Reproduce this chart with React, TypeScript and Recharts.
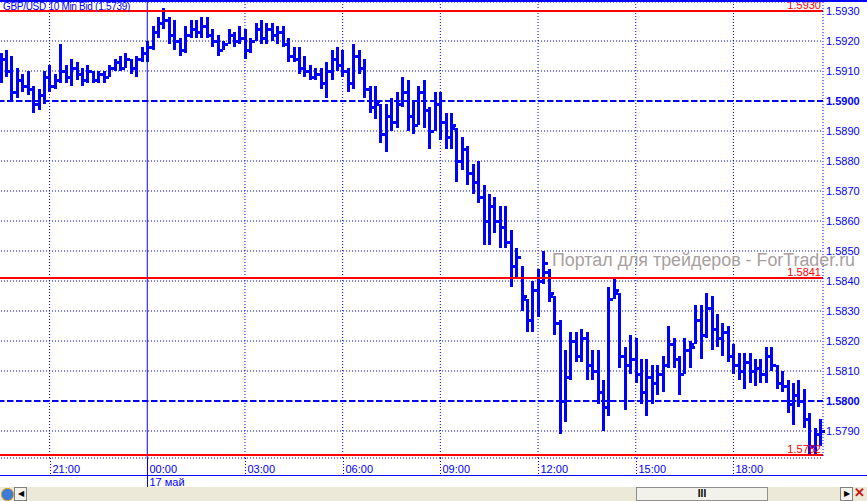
import React from "react";
import { ComposedChart, Bar, XAxis, YAxis, CartesianGrid, ReferenceLine } from "recharts";

const BLUE = "#0000ff";
const RED = "#ff0000";
const FONT = "'Liberation Sans', Arial, sans-serif";

// GBP/USD 10-min bars, 16 May 19:30 .. 17 May 20:40, in points (5916 -> 1.5916)
const HIGH = [
  5916, 5917, 5915, 5911, 5909, 5910, 5905, 5904, 5910, 5912,
  5909, 5919, 5912, 5914, 5913, 5911, 5912, 5910, 5910, 5910,
  5912, 5914, 5915, 5916, 5914, 5915, 5918, 5920, 5925, 5928,
  5931, 5928, 5927, 5921, 5925, 5927, 5927, 5928, 5928, 5924,
  5922, 5920, 5924, 5923, 5925, 5924, 5921, 5926, 5927, 5926,
  5926, 5925, 5925, 5921, 5918, 5918, 5915, 5912, 5911, 5911,
  5913, 5917, 5918, 5917, 5911, 5919, 5917, 5914, 5905, 5905,
  5899, 5899, 5901, 5903, 5908, 5907, 5900, 5905, 5907, 5898,
  5903, 5903, 5896, 5896, 5891, 5888, 5885, 5879, 5880, 5872,
  5869, 5868, 5865, 5865, 5857, 5851, 5845, 5834, 5840, 5844,
  5850, 5844, 5835, 5827, 5817, 5823, 5823, 5824, 5823, 5817,
  5817, 5807, 5838, 5841, 5836, 5818, 5822, 5821, 5814, 5814,
  5812, 5812, 5815, 5825, 5821, 5815, 5821, 5820, 5832, 5832,
  5836, 5835, 5829, 5826, 5825, 5819, 5816, 5816, 5816, 5814,
  5814, 5818, 5818, 5812, 5810, 5807, 5806, 5807, 5804, 5796,
  5791, 5794,
];
const LOW = [
  5906, 5908, 5900, 5901, 5903, 5902, 5896, 5897, 5899, 5903,
  5904, 5906, 5906, 5905, 5907, 5905, 5906, 5906, 5906, 5906,
  5908, 5910, 5910, 5911, 5909, 5908, 5913, 5913, 5917, 5921,
  5924, 5919, 5917, 5915, 5916, 5921, 5921, 5921, 5921, 5918,
  5915, 5917, 5919, 5918, 5919, 5914, 5916, 5920, 5919, 5919,
  5920, 5919, 5918, 5913, 5913, 5909, 5908, 5907, 5907, 5904,
  5901, 5907, 5910, 5908, 5903, 5904, 5909, 5901, 5896, 5894,
  5886, 5883, 5890, 5891, 5898, 5890, 5889, 5892, 5891, 5884,
  5890, 5887, 5884, 5884, 5873, 5877, 5872, 5869, 5866, 5852,
  5852, 5856, 5851, 5851, 5838, 5841, 5830, 5823, 5823, 5828,
  5839, 5833, 5822, 5789, 5793, 5807, 5813, 5813, 5807, 5807,
  5799, 5790, 5795, 5834, 5811, 5797, 5809, 5806, 5799, 5795,
  5799, 5802, 5803, 5811, 5811, 5802, 5809, 5811, 5819, 5814,
  5821, 5817, 5818, 5815, 5813, 5809, 5807, 5804, 5806, 5805,
  5806, 5806, 5810, 5804, 5803, 5796, 5792, 5798, 5791, 5782,
  5782, 5785,
];
const OPEN = [
  5908, 5914, 5910, 5903, 5907, 5905, 5904, 5899, 5902, 5908,
  5905, 5907, 5910, 5908, 5911, 5909, 5907, 5910, 5907, 5909,
  5908, 5911, 5913, 5911, 5914, 5911, 5914, 5916, 5918, 5923,
  5926, 5927, 5922, 5920, 5917, 5922, 5924, 5923, 5925, 5922,
  5920, 5917, 5919, 5922, 5920, 5921, 5917, 5920, 5924, 5921,
  5924, 5922, 5923, 5919, 5915, 5914, 5911, 5910, 5908, 5909,
  5906, 5910, 5914, 5912, 5910, 5906, 5915, 5911, 5904, 5898,
  5899, 5889, 5895, 5893, 5899, 5903, 5895, 5892, 5903, 5897,
  5890, 5899, 5893, 5888, 5891, 5880, 5884, 5876, 5873, 5868,
  5860, 5865, 5860, 5858, 5853, 5845, 5848, 5834, 5827, 5837,
  5840, 5843, 5835, 5826, 5800, 5808, 5820, 5815, 5821, 5812,
  5810, 5803, 5798, 5834, 5836, 5815, 5812, 5814, 5809, 5803,
  5808, 5806, 5809, 5812, 5819, 5814, 5809, 5817, 5819, 5827,
  5822, 5831, 5824, 5821, 5823, 5815, 5812, 5810, 5813, 5810,
  5811, 5809, 5815, 5812, 5806, 5805, 5799, 5802, 5800, 5794,
  5785, 5789,
];
const CLOSE = [
  5914, 5910, 5903, 5907, 5905, 5904, 5899, 5902, 5908, 5905,
  5907, 5910, 5908, 5911, 5909, 5907, 5910, 5907, 5909, 5908,
  5911, 5913, 5911, 5914, 5911, 5914, 5916, 5918, 5923, 5926,
  5927, 5922, 5920, 5917, 5922, 5924, 5923, 5925, 5922, 5920,
  5917, 5919, 5922, 5920, 5921, 5917, 5920, 5924, 5921, 5924,
  5922, 5923, 5919, 5915, 5914, 5911, 5910, 5908, 5909, 5906,
  5910, 5914, 5912, 5910, 5906, 5915, 5911, 5904, 5898, 5900,
  5889, 5895, 5893, 5899, 5903, 5895, 5892, 5903, 5897, 5890,
  5899, 5893, 5888, 5892, 5880, 5884, 5876, 5873, 5868, 5860,
  5865, 5860, 5858, 5853, 5845, 5848, 5835, 5827, 5837, 5840,
  5846, 5836, 5826, 5800, 5808, 5820, 5815, 5821, 5812, 5810,
  5803, 5798, 5834, 5837, 5815, 5812, 5814, 5809, 5803, 5808,
  5806, 5809, 5812, 5819, 5814, 5809, 5817, 5818, 5827, 5822,
  5831, 5824, 5821, 5823, 5815, 5812, 5810, 5813, 5810, 5811,
  5809, 5815, 5812, 5806, 5805, 5799, 5802, 5800, 5794, 5785,
  5789, 5790,
];

const TICK_INDEX = [9, 27, 45, 63, 81, 99, 117, 135];
const TICK_LABELS = ["21:00", "00:00", "03:00", "06:00", "09:00", "12:00", "15:00", "18:00"];
const DAY_TICK = 27;
const DAY_LABEL = "17 май";
const PRICE_TICKS = [5790, 5800, 5810, 5820, 5830, 5840, 5850, 5860, 5870, 5880, 5890, 5900, 5910, 5920, 5930];
const ROUND_LEVELS = [5900, 5800];
const RED_LEVELS = [5930, 5841, 5782];
const TITLE = "GBP/USD 10 Min Bid (1.5739)";
const WATERMARK = "Портал для трейдеров - ForTrader.ru";

const data = HIGH.map((h, i) => ({ i, h, l: LOW[i], o: OPEN[i], c: CLOSE[i] }));

const fmt = (v: number) => "1." + v;

function OhlcBar(props: any) {
  const { x, y, width, height, payload } = props;
  const cx = Math.round(x + width / 2);
  const top = Math.min(y, y + height);
  const bot = Math.max(y, y + height);
  const span = payload.h - payload.l;
  const py = (v: number) =>
    Math.round(span === 0 ? top : top + ((payload.h - v) / span) * (bot - top));
  return (
    <g fill={BLUE}>
      <rect x={cx - 1} y={Math.round(top)} width={3} height={Math.max(Math.round(bot - top), 2)} />
      <rect x={cx - 4} y={py(payload.o) - 1} width={3} height={3} />
      <rect x={cx + 2} y={py(payload.c) - 1} width={3} height={3} />
    </g>
  );
}

function TimeTick(props: any) {
  const { x, payload } = props;
  const k = TICK_INDEX.indexOf(payload.value);
  const day = payload.value === DAY_TICK;
  const lx = Math.round(x) + 0.5;
  return (
    <g>
      <line
        x1={lx}
        x2={lx}
        y1={458}
        y2={day ? 487 : 475}
        stroke={BLUE}
        strokeDasharray={day ? undefined : "1 2"}
      />
      <text x={lx + 2} y={469} dy="0.35em" fill={BLUE} fontSize={11} fontFamily={FONT}>
        {TICK_LABELS[k]}
      </text>
      {day && (
        <text x={lx + 2} y={482} dy="0.35em" fill={BLUE} fontSize={11} fontFamily={FONT}>
          {DAY_LABEL}
        </text>
      )}
    </g>
  );
}

function PriceTick(props: any) {
  const { y, payload } = props;
  const bold = ROUND_LEVELS.includes(payload.value);
  return (
    <text
      x={826}
      y={y}
      dy="0.35em"
      fill={BLUE}
      fontSize={11}
      fontWeight={bold ? "bold" : "normal"}
      fontFamily={FONT}
    >
      {fmt(payload.value)}
    </text>
  );
}

export default function App() {
  return (
    <div
      style={{
        position: "absolute",
        left: 0,
        top: 0,
        width: 867,
        height: 501,
        background: "#ffffff",
        overflow: "hidden",
        fontFamily: FONT,
      }}
    >
      <ComposedChart
        width={867}
        height={501}
        data={data}
        margin={{ top: 2, right: 0, bottom: 13, left: -2 }}
      >
        <CartesianGrid horizontal vertical={false} stroke={BLUE} strokeDasharray="1 2" />
        <XAxis
          dataKey="i"
          type="category"
          ticks={TICK_INDEX}
          interval={0}
          axisLine={false}
          tickLine={false}
          height={30}
          tick={<TimeTick />}
        />
        <YAxis
          orientation="right"
          width={44}
          domain={[5781, 5933]}
          allowDataOverflow
          ticks={PRICE_TICKS}
          interval={0}
          axisLine={{ stroke: BLUE, strokeDasharray: "1 2" }}
          tickLine={false}
          tick={<PriceTick />}
        />
        {TICK_INDEX.map((t) => (
          <ReferenceLine
            key={"v" + t}
            x={t}
            stroke={BLUE}
            strokeDasharray={t === DAY_TICK ? undefined : "1 2"}
          />
        ))}
        {ROUND_LEVELS.map((v) => (
          <ReferenceLine key={"r" + v} y={v} stroke={BLUE} strokeWidth={2} strokeDasharray="6 3" />
        ))}
        <Bar
          dataKey={(d: any) => [d.l, d.h]}
          shape={<OhlcBar />}
          isAnimationActive={false}
        />
        {RED_LEVELS.map((v) => (
          <ReferenceLine
            key={"m" + v}
            y={v}
            stroke={RED}
            strokeWidth={2}
            label={{
              value: fmt(v),
              position: "insideBottomRight",
              offset: 2,
              fill: RED,
              fontSize: 11,
              fontFamily: FONT,
            }}
          />
        ))}
      </ComposedChart>

      <div style={{ position: "absolute", left: 0, top: 0, width: 867, height: 2, background: BLUE }} />
      <div style={{ position: "absolute", left: 0, top: 475, width: 867, height: 1, background: BLUE }} />
      <div
        style={{
          position: "absolute",
          left: 3,
          top: 1,
          fontSize: 10,
          letterSpacing: -0.3,
          color: BLUE,
          whiteSpace: "nowrap",
          lineHeight: "12px",
        }}
      >
        {TITLE}
      </div>
      <svg
        width={867}
        height={501}
        style={{ position: "absolute", left: 0, top: 0, pointerEvents: "none" }}
      >
        <text
          x={552}
          y={266}
          fontSize={18}
          fontFamily={FONT}
          fill="#a89f9f"
          textLength={303}
          lengthAdjust="spacingAndGlyphs"
        >
          {WATERMARK}
        </text>
      </svg>

      {/* scroll bar row */}
      <div style={{ position: "absolute", left: 0, top: 487, width: 867, height: 14, background: "#ece9d8" }}>
        <div
          style={{
            position: "absolute",
            left: 1,
            top: 1,
            width: 11,
            height: 11,
            borderRadius: 6,
            background: "#3d7bd6",
            border: "1px solid #e0a020",
          }}
        />
        <div
          style={{
            position: "absolute",
            left: 14,
            top: 0,
            width: 11,
            height: 12,
            border: "1px solid #808080",
            background: "#f4f3ee",
            fontSize: 8,
            lineHeight: "12px",
            textAlign: "center",
            color: "#000",
          }}
        >
          ◀
        </div>
        <div
          style={{
            position: "absolute",
            left: 636,
            top: 0,
            width: 130,
            height: 12,
            border: "1px solid #909090",
            background: "#f2f1ea",
            fontSize: 10,
            lineHeight: "12px",
            textAlign: "center",
            fontWeight: "bold",
            color: "#000",
          }}
        >
          III
        </div>
        <div
          style={{
            position: "absolute",
            left: 840,
            top: 0,
            width: 11,
            height: 12,
            border: "1px solid #808080",
            background: "#f4f3ee",
            fontSize: 8,
            lineHeight: "12px",
            textAlign: "center",
            color: "#000",
          }}
        >
          ▶
        </div>
        <div
          style={{
            position: "absolute",
            left: 853,
            top: -1,
            width: 13,
            height: 14,
            fontSize: 13,
            lineHeight: "14px",
            textAlign: "center",
            color: "#d01010",
            fontWeight: "bold",
          }}
        >
          ✕
        </div>
      </div>
    </div>
  );
}
